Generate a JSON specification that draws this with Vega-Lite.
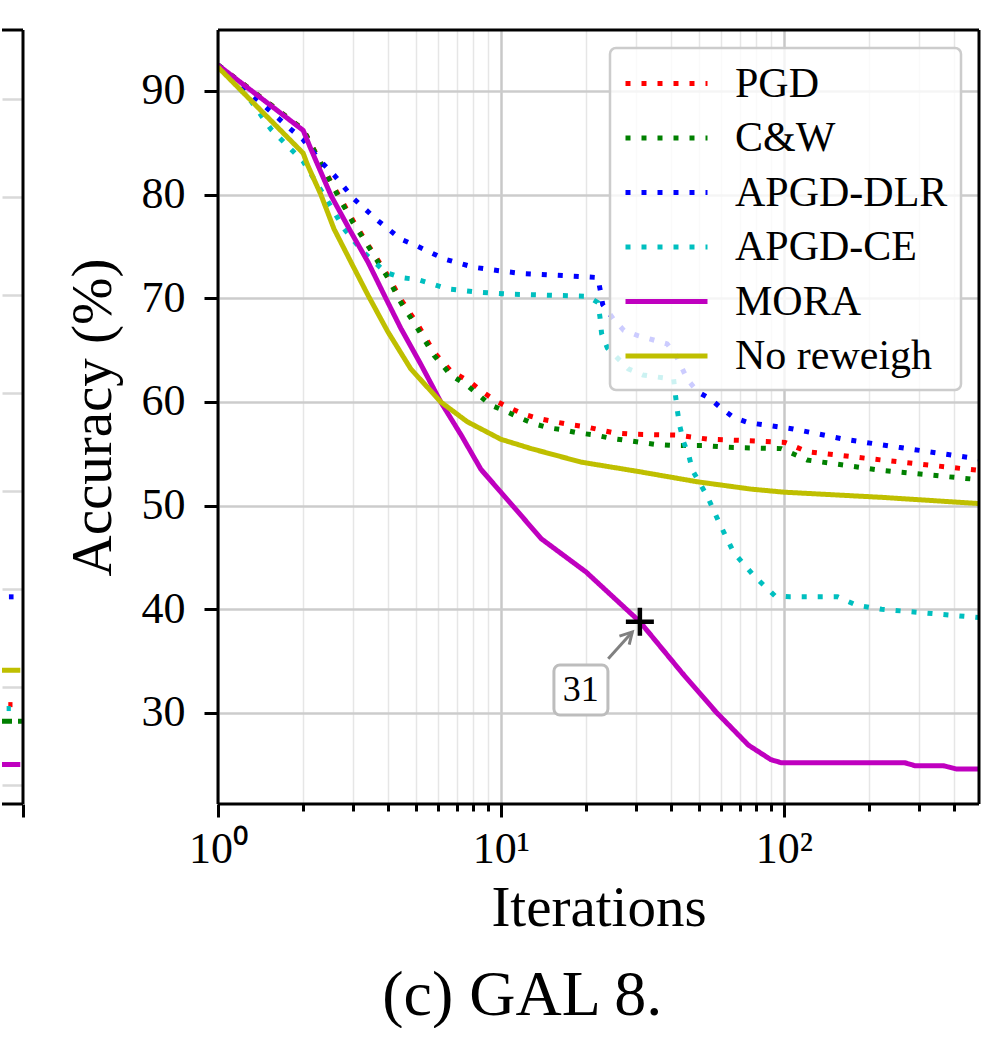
{
  "$schema": "https://vega.github.io/schema/vega-lite/v6.json",
  "padding": {"left": 0, "top": 28, "right": 0, "bottom": 0},
  "background": "white",
  "config": {
    "font": "Liberation Serif",
    "view": {"stroke": null},
    "axis": {"labelFont": "Liberation Serif", "titleFont": "Liberation Serif", "labelColor": "#000000", "titleColor": "#000000", "titleFontWeight": "normal", "domain": false, "tickColor": "#000000", "tickWidth": 3, "gridColor": "#cccccc", "gridWidth": 2.5},
    "legend": {"strokeWidth": 2.5},
    "concat": {"spacing": 39}
  },
  "resolve": {"scale": {"color": "independent", "strokeDash": "independent", "x": "independent", "y": "independent"}, "legend": {"color": "independent", "strokeDash": "independent"}},
  "hconcat": [
    {
      "width": 21,
      "height": 774,
      "layer": [
        {
          "data": {"values": [
            {"series": "APGD-DLR", "t": 0.33, "acc": 29.2}, {"series": "APGD-DLR", "t": 0.55, "acc": 29.2},
            {"series": "No reweigh", "t": 0, "acc": 21.7}, {"series": "No reweigh", "t": 0.87, "acc": 21.7},
            {"series": "PGD", "t": 0.3, "acc": 18.2}, {"series": "PGD", "t": 0.5, "acc": 18.2},
            {"series": "APGD-CE", "t": 0.22, "acc": 17.8}, {"series": "APGD-CE", "t": 0.42, "acc": 17.8},
            {"series": "C&W", "t": 0, "acc": 16.5}, {"series": "C&W", "t": 0.95, "acc": 16.5},
            {"series": "MORA", "t": 0, "acc": 12.1}, {"series": "MORA", "t": 0.87, "acc": 12.1}
          ]},
          "mark": {"type": "line", "strokeWidth": 5, "strokeCap": "butt", "clip": true},
          "encoding": {
            "x": {"field": "t", "type": "quantitative", "scale": {"domain": [0, 1], "nice": false}, "axis": {"values": [1], "labels": false, "grid": false, "ticks": true, "tickSize": 13, "title": null, "domain": false}},
            "y": {"field": "acc", "type": "quantitative", "scale": {"domain": [8.06, 87.04], "nice": false, "zero": false}, "axis": {"values": [10, 20, 30, 40, 50, 60, 70, 80], "labels": false, "ticks": false, "title": null, "domain": false, "grid": true, "gridColor": "#d9d9d9"}},
            "color": {"field": "series", "type": "nominal", "legend": null, "scale": {"domain": ["PGD", "C&W", "APGD-DLR", "APGD-CE", "MORA", "No reweigh"], "range": ["#ff0000", "#008000", "#0000ff", "#00bfbf", "#bf00bf", "#bfbf00"]}},
            "strokeDash": {"field": "series", "type": "nominal", "legend": null, "scale": {"domain": ["PGD", "C&W", "APGD-DLR", "APGD-CE", "MORA", "No reweigh"], "range": [[5, 11], [10, 6], [5, 11], [5, 11], [1, 0], [1, 0]]}}
          }
        },
        {
          "data": {"values": [{}]},
          "mark": {"type": "rule", "color": "#000000", "strokeWidth": 3},
          "encoding": {"x": {"datum": 1, "type": "quantitative"}}
        },
        {
          "data": {"values": [{}]},
          "mark": {"type": "rule", "color": "#000000", "strokeWidth": 3},
          "encoding": {"y": {"datum": 87.04, "type": "quantitative"}}
        },
        {
          "data": {"values": [{}]},
          "mark": {"type": "rule", "color": "#000000", "strokeWidth": 3},
          "encoding": {"y": {"datum": 8.06, "type": "quantitative"}}
        }
      ]
    },
    {
      "width": 761,
      "height": 774,
      "title": {"text": "(c) GAL 8.", "orient": "bottom", "anchor": "middle", "frame": "bounds", "font": "Liberation Serif", "fontSize": 64, "fontWeight": "normal", "offset": 28, "color": "#000000"},
      "layer": [
        {
          "data": {"values": [
            {"series": "PGD", "it": 1, "acc": 92.5}, {"series": "PGD", "it": 2, "acc": 86.3}, {"series": "PGD", "it": 2.5, "acc": 81.3}, {"series": "PGD", "it": 3.0, "acc": 77.5}, {"series": "PGD", "it": 3.42, "acc": 75.0}, {"series": "PGD", "it": 3.98, "acc": 72.2}, {"series": "PGD", "it": 4.43, "acc": 69.9}, {"series": "PGD", "it": 5.1, "acc": 67.4}, {"series": "PGD", "it": 5.8, "acc": 64.8}, {"series": "PGD", "it": 6.65, "acc": 63.0}, {"series": "PGD", "it": 7.8, "acc": 61.9}, {"series": "PGD", "it": 8.7, "acc": 60.9}, {"series": "PGD", "it": 9.6, "acc": 60.1}, {"series": "PGD", "it": 10.8, "acc": 59.4}, {"series": "PGD", "it": 12.1, "acc": 58.8}, {"series": "PGD", "it": 13.6, "acc": 58.4}, {"series": "PGD", "it": 15.4, "acc": 58.1}, {"series": "PGD", "it": 17.7, "acc": 57.8}, {"series": "PGD", "it": 20, "acc": 57.6}, {"series": "PGD", "it": 22.5, "acc": 57.3}, {"series": "PGD", "it": 25.4, "acc": 57.0}, {"series": "PGD", "it": 28.8, "acc": 56.9}, {"series": "PGD", "it": 42, "acc": 56.8}, {"series": "PGD", "it": 54.4, "acc": 56.4}, {"series": "PGD", "it": 69, "acc": 56.3}, {"series": "PGD", "it": 101, "acc": 56.1}, {"series": "PGD", "it": 121, "acc": 55.2}, {"series": "PGD", "it": 222, "acc": 54.4}, {"series": "PGD", "it": 490, "acc": 53.4},
            {"series": "C&W", "it": 1, "acc": 92.5}, {"series": "C&W", "it": 2, "acc": 86.3}, {"series": "C&W", "it": 2.5, "acc": 81.2}, {"series": "C&W", "it": 3.0, "acc": 77.3}, {"series": "C&W", "it": 3.42, "acc": 74.9}, {"series": "C&W", "it": 3.98, "acc": 72.0}, {"series": "C&W", "it": 4.43, "acc": 69.6}, {"series": "C&W", "it": 5.1, "acc": 67.0}, {"series": "C&W", "it": 5.8, "acc": 64.5}, {"series": "C&W", "it": 6.65, "acc": 62.6}, {"series": "C&W", "it": 7.6, "acc": 61.6}, {"series": "C&W", "it": 9.2, "acc": 59.7}, {"series": "C&W", "it": 10.6, "acc": 59.0}, {"series": "C&W", "it": 11.8, "acc": 58.4}, {"series": "C&W", "it": 13.1, "acc": 57.9}, {"series": "C&W", "it": 14.8, "acc": 57.5}, {"series": "C&W", "it": 16.7, "acc": 57.3}, {"series": "C&W", "it": 18.9, "acc": 57.0}, {"series": "C&W", "it": 21.7, "acc": 56.8}, {"series": "C&W", "it": 24.4, "acc": 56.5}, {"series": "C&W", "it": 27.7, "acc": 56.3}, {"series": "C&W", "it": 31.2, "acc": 56.1}, {"series": "C&W", "it": 35.2, "acc": 55.9}, {"series": "C&W", "it": 40.4, "acc": 55.8}, {"series": "C&W", "it": 51.5, "acc": 55.8}, {"series": "C&W", "it": 66.5, "acc": 55.6}, {"series": "C&W", "it": 98, "acc": 55.5}, {"series": "C&W", "it": 121, "acc": 54.4}, {"series": "C&W", "it": 222, "acc": 53.4}, {"series": "C&W", "it": 490, "acc": 52.5},
            {"series": "APGD-DLR", "it": 1, "acc": 92.5}, {"series": "APGD-DLR", "it": 1.81, "acc": 86.3}, {"series": "APGD-DLR", "it": 2, "acc": 85.3}, {"series": "APGD-DLR", "it": 2.31, "acc": 83.2}, {"series": "APGD-DLR", "it": 2.57, "acc": 81.9}, {"series": "APGD-DLR", "it": 3.02, "acc": 79.6}, {"series": "APGD-DLR", "it": 3.67, "acc": 77.5}, {"series": "APGD-DLR", "it": 4.43, "acc": 75.7}, {"series": "APGD-DLR", "it": 5.0, "acc": 75.1}, {"series": "APGD-DLR", "it": 6.3, "acc": 73.8}, {"series": "APGD-DLR", "it": 8.0, "acc": 73.0}, {"series": "APGD-DLR", "it": 10.2, "acc": 72.6}, {"series": "APGD-DLR", "it": 11.8, "acc": 72.4}, {"series": "APGD-DLR", "it": 19.2, "acc": 72.1}, {"series": "APGD-DLR", "it": 22, "acc": 72.0}, {"series": "APGD-DLR", "it": 22.6, "acc": 70.4}, {"series": "APGD-DLR", "it": 22.9, "acc": 69.4}, {"series": "APGD-DLR", "it": 25, "acc": 68.0}, {"series": "APGD-DLR", "it": 27.2, "acc": 66.9}, {"series": "APGD-DLR", "it": 30.5, "acc": 66.4}, {"series": "APGD-DLR", "it": 34.4, "acc": 66.0}, {"series": "APGD-DLR", "it": 38.7, "acc": 65.6}, {"series": "APGD-DLR", "it": 41.4, "acc": 64.6}, {"series": "APGD-DLR", "it": 43.1, "acc": 63.6}, {"series": "APGD-DLR", "it": 45.6, "acc": 62.2}, {"series": "APGD-DLR", "it": 49.5, "acc": 61.0}, {"series": "APGD-DLR", "it": 55, "acc": 60.3}, {"series": "APGD-DLR", "it": 60.7, "acc": 59.3}, {"series": "APGD-DLR", "it": 66.5, "acc": 58.5}, {"series": "APGD-DLR", "it": 75, "acc": 58.0}, {"series": "APGD-DLR", "it": 108, "acc": 57.4}, {"series": "APGD-DLR", "it": 164, "acc": 56.4}, {"series": "APGD-DLR", "it": 258, "acc": 55.6}, {"series": "APGD-DLR", "it": 490, "acc": 54.5},
            {"series": "APGD-CE", "it": 1, "acc": 92.5}, {"series": "APGD-CE", "it": 1.31, "acc": 89.0}, {"series": "APGD-CE", "it": 1.54, "acc": 86.3}, {"series": "APGD-CE", "it": 2.0, "acc": 83.2}, {"series": "APGD-CE", "it": 2.45, "acc": 79.3}, {"series": "APGD-CE", "it": 2.79, "acc": 76.7}, {"series": "APGD-CE", "it": 3.25, "acc": 74.5}, {"series": "APGD-CE", "it": 3.92, "acc": 72.5}, {"series": "APGD-CE", "it": 4.43, "acc": 72.0}, {"series": "APGD-CE", "it": 5.1, "acc": 71.8}, {"series": "APGD-CE", "it": 6.5, "acc": 70.9}, {"series": "APGD-CE", "it": 8.3, "acc": 70.6}, {"series": "APGD-CE", "it": 10.8, "acc": 70.4}, {"series": "APGD-CE", "it": 20.2, "acc": 70.2}, {"series": "APGD-CE", "it": 22, "acc": 69.6}, {"series": "APGD-CE", "it": 22.4, "acc": 68.2}, {"series": "APGD-CE", "it": 22.7, "acc": 66.6}, {"series": "APGD-CE", "it": 23.8, "acc": 65.2}, {"series": "APGD-CE", "it": 28.2, "acc": 63.2}, {"series": "APGD-CE", "it": 31.8, "acc": 62.6}, {"series": "APGD-CE", "it": 35.8, "acc": 62.4}, {"series": "APGD-CE", "it": 40.8, "acc": 62.2}, {"series": "APGD-CE", "it": 41.4, "acc": 60.7}, {"series": "APGD-CE", "it": 42, "acc": 59.3}, {"series": "APGD-CE", "it": 42.8, "acc": 57.8}, {"series": "APGD-CE", "it": 44.3, "acc": 56.1}, {"series": "APGD-CE", "it": 46.1, "acc": 54.9}, {"series": "APGD-CE", "it": 47.6, "acc": 53.4}, {"series": "APGD-CE", "it": 53.9, "acc": 50.8}, {"series": "APGD-CE", "it": 59, "acc": 48.4}, {"series": "APGD-CE", "it": 66.5, "acc": 45.5}, {"series": "APGD-CE", "it": 78, "acc": 43.3}, {"series": "APGD-CE", "it": 93, "acc": 41.3}, {"series": "APGD-CE", "it": 105, "acc": 41.2}, {"series": "APGD-CE", "it": 155, "acc": 41.2}, {"series": "APGD-CE", "it": 181, "acc": 40.4}, {"series": "APGD-CE", "it": 222, "acc": 40.0}, {"series": "APGD-CE", "it": 301, "acc": 39.7}, {"series": "APGD-CE", "it": 490, "acc": 39.2},
            {"series": "MORA", "it": 1, "acc": 92.5}, {"series": "MORA", "it": 2, "acc": 86.2}, {"series": "MORA", "it": 2.13, "acc": 84.4}, {"series": "MORA", "it": 2.51, "acc": 79.9}, {"series": "MORA", "it": 2.95, "acc": 76.4}, {"series": "MORA", "it": 3.39, "acc": 73.5}, {"series": "MORA", "it": 3.92, "acc": 70.0}, {"series": "MORA", "it": 4.43, "acc": 67.1}, {"series": "MORA", "it": 5.22, "acc": 63.6}, {"series": "MORA", "it": 6.13, "acc": 60.0}, {"series": "MORA", "it": 7.24, "acc": 56.8}, {"series": "MORA", "it": 8.5, "acc": 53.5}, {"series": "MORA", "it": 10, "acc": 51.3}, {"series": "MORA", "it": 13.9, "acc": 46.8}, {"series": "MORA", "it": 20, "acc": 43.6}, {"series": "MORA", "it": 31, "acc": 38.8}, {"series": "MORA", "it": 43.6, "acc": 33.9}, {"series": "MORA", "it": 57.6, "acc": 30.1}, {"series": "MORA", "it": 75, "acc": 26.9}, {"series": "MORA", "it": 90, "acc": 25.5}, {"series": "MORA", "it": 98, "acc": 25.2}, {"series": "MORA", "it": 268, "acc": 25.2}, {"series": "MORA", "it": 292, "acc": 24.9}, {"series": "MORA", "it": 368, "acc": 24.9}, {"series": "MORA", "it": 408, "acc": 24.6}, {"series": "MORA", "it": 490, "acc": 24.6},
            {"series": "No reweigh", "it": 1, "acc": 92.3}, {"series": "No reweigh", "it": 2, "acc": 84.0}, {"series": "No reweigh", "it": 2.07, "acc": 82.9}, {"series": "No reweigh", "it": 2.31, "acc": 80.0}, {"series": "No reweigh", "it": 2.57, "acc": 76.7}, {"series": "No reweigh", "it": 2.95, "acc": 73.5}, {"series": "No reweigh", "it": 3.39, "acc": 70.3}, {"series": "No reweigh", "it": 3.98, "acc": 66.8}, {"series": "No reweigh", "it": 4.8, "acc": 63.2}, {"series": "No reweigh", "it": 6.13, "acc": 60.0}, {"series": "No reweigh", "it": 7.6, "acc": 58.1}, {"series": "No reweigh", "it": 10, "acc": 56.4}, {"series": "No reweigh", "it": 12.8, "acc": 55.5}, {"series": "No reweigh", "it": 19.2, "acc": 54.2}, {"series": "No reweigh", "it": 30.5, "acc": 53.3}, {"series": "No reweigh", "it": 49.5, "acc": 52.3}, {"series": "No reweigh", "it": 76.3, "acc": 51.6}, {"series": "No reweigh", "it": 100, "acc": 51.3}, {"series": "No reweigh", "it": 222, "acc": 50.8}, {"series": "No reweigh", "it": 490, "acc": 50.2}
          ]},
          "mark": {"type": "line", "strokeWidth": 5, "strokeCap": "butt", "clip": true},
          "encoding": {
            "x": {"field": "it", "type": "quantitative", "scale": {"type": "log", "domain": [1, 490], "nice": false},
              "axis": {"title": "Iterations", "titleFontSize": 57, "titlePadding": 9, "labelFontSize": 44, "labelPadding": 10, "labelOverlap": false, "labelBound": false, "labelFlush": false,
                "values": [1, 2, 3, 4, 5, 6, 7, 8, 9, 10, 20, 30, 40, 50, 60, 70, 80, 90, 100, 200, 300, 400],
                "labelExpr": "datum.value == 1 ? '10⁰' : datum.value == 10 ? '10¹' : datum.value == 100 ? '10²' : ''",
                "tickSize": {"condition": {"test": "datum.value == 1 || datum.value == 10 || datum.value == 100", "value": 13}, "value": 7},
                "gridColor": {"condition": {"test": "datum.value == 1 || datum.value == 10 || datum.value == 100", "value": "#c8c8c8"}, "value": "#e6e6e6"},
                "gridWidth": {"condition": {"test": "datum.value == 1 || datum.value == 10 || datum.value == 100", "value": 2.5}, "value": 1.5}}},
            "y": {"field": "acc", "type": "quantitative", "scale": {"domain": [21.22, 95.88], "nice": false, "zero": false},
              "axis": {"title": "Accuracy (%)", "titleFontSize": 57, "titlePadding": 19, "labelFontSize": 44, "labelPadding": 19, "tickSize": 14, "values": [30, 40, 50, 60, 70, 80, 90], "grid": true, "gridColor": "#cccccc"}},
            "color": {"field": "series", "type": "nominal",
              "scale": {"domain": ["PGD", "C&W", "APGD-DLR", "APGD-CE", "MORA", "No reweigh"], "range": ["#ff0000", "#008000", "#0000ff", "#00bfbf", "#bf00bf", "#bfbf00"]},
              "legend": {"title": null, "orient": "top-right", "offset": 18, "labelFont": "Liberation Serif", "labelFontSize": 42, "labelColor": "#000000", "labelLimit": 400, "symbolType": "M-2.05,0H2.05", "symbolSize": 1600, "symbolStrokeWidth": 5, "symbolOffset": 21, "labelOffset": 46, "padding": 13, "rowPadding": 10.5, "cornerRadius": 6, "strokeColor": "#cccccc", "fillColor": "rgba(255,255,255,0.8)"}},
            "strokeDash": {"field": "series", "type": "nominal",
              "scale": {"domain": ["PGD", "C&W", "APGD-DLR", "APGD-CE", "MORA", "No reweigh"], "range": [[5, 11], [5, 11], [5, 11], [5, 11], [1, 0], [1, 0]]}}
          }
        },
        {
          "data": {"values": [{"x0": 15.4, "x1": 23.9, "y0": 29.81, "y1": 34.63}]},
          "mark": {"type": "rect", "fill": "#ffffff", "stroke": "#bdbdbd", "strokeWidth": 3, "cornerRadius": 6},
          "encoding": {
            "x": {"field": "x0", "type": "quantitative", "scale": {"type": "log", "domain": [1, 490], "nice": false}},
            "x2": {"field": "x1"},
            "y": {"field": "y0", "type": "quantitative", "scale": {"domain": [21.22, 95.88], "nice": false, "zero": false}},
            "y2": {"field": "y1"}
          }
        },
        {
          "data": {"values": [{"x": 19.17, "y": 32.22, "label": "31"}]},
          "mark": {"type": "text", "font": "Liberation Serif", "fontSize": 36, "align": "center", "baseline": "middle", "color": "#000000"},
          "encoding": {
            "x": {"field": "x", "type": "quantitative", "scale": {"type": "log", "domain": [1, 490], "nice": false}},
            "y": {"field": "y", "type": "quantitative", "scale": {"domain": [21.22, 95.88], "nice": false, "zero": false}},
            "text": {"field": "label"}
          }
        },
        {
          "data": {"values": [
            {"seg": "shaft", "o": 0, "x": 23.96, "y": 35.24}, {"seg": "shaft", "o": 1, "x": 29.15, "y": 37.82},
            {"seg": "head", "o": 0, "x": 26.25, "y": 37.42}, {"seg": "head", "o": 1, "x": 29.15, "y": 37.82}, {"seg": "head", "o": 2, "x": 28.42, "y": 36.59}
          ]},
          "mark": {"type": "line", "color": "#808080", "strokeWidth": 3, "strokeJoin": "miter"},
          "encoding": {
            "x": {"field": "x", "type": "quantitative", "scale": {"type": "log", "domain": [1, 490], "nice": false}},
            "y": {"field": "y", "type": "quantitative", "scale": {"domain": [21.22, 95.88], "nice": false, "zero": false}},
            "detail": {"field": "seg"},
            "order": {"field": "o"}
          }
        },
        {
          "data": {"values": [{"x": 31, "y": 38.8}]},
          "mark": {"type": "point", "shape": "M-1,0H1M0,-1V1", "size": 784, "filled": false, "stroke": "#000000", "strokeWidth": 4.5, "opacity": 1},
          "encoding": {
            "x": {"field": "x", "type": "quantitative", "scale": {"type": "log", "domain": [1, 490], "nice": false}},
            "y": {"field": "y", "type": "quantitative", "scale": {"domain": [21.22, 95.88], "nice": false, "zero": false}}
          }
        },
        {
          "data": {"values": [{}]},
          "mark": {"type": "rule", "color": "#000000", "strokeWidth": 3},
          "encoding": {"x": {"datum": 1, "type": "quantitative", "scale": {"type": "log", "domain": [1, 490], "nice": false}}}
        },
        {
          "data": {"values": [{}]},
          "mark": {"type": "rule", "color": "#000000", "strokeWidth": 3},
          "encoding": {"x": {"datum": 490, "type": "quantitative", "scale": {"type": "log", "domain": [1, 490], "nice": false}}}
        },
        {
          "data": {"values": [{}]},
          "mark": {"type": "rule", "color": "#000000", "strokeWidth": 3},
          "encoding": {"y": {"datum": 95.88, "type": "quantitative", "scale": {"domain": [21.22, 95.88], "nice": false, "zero": false}}}
        },
        {
          "data": {"values": [{}]},
          "mark": {"type": "rule", "color": "#000000", "strokeWidth": 3},
          "encoding": {"y": {"datum": 21.22, "type": "quantitative", "scale": {"domain": [21.22, 95.88], "nice": false, "zero": false}}}
        }
      ]
    }
  ]
}
